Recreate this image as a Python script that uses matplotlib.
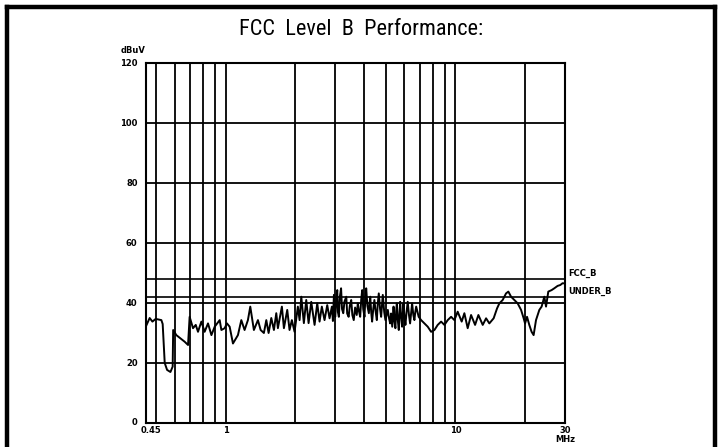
import matplotlib.pyplot as plt
from matplotlib.lines import Line2D
from matplotlib import font_manager

# Conducted emission scan (MHz, dBuV)
freq_mhz = [0.449, 0.467, 0.480, 0.496, 0.525, 0.532, 0.543, 0.556, 0.575, 0.588,
            0.591, 0.610, 0.663, 0.686, 0.697, 0.721, 0.741, 0.758, 0.784, 0.810,
            0.838, 0.867, 0.896, 0.942, 0.958, 0.990, 1.013, 1.041, 1.076, 1.131,
            1.170, 1.209, 1.250, 1.280, 1.327, 1.382, 1.420, 1.467, 1.503, 1.538,
            1.580, 1.622, 1.661, 1.688, 1.757, 1.793, 1.854, 1.897, 1.942, 1.995,
            2.062, 2.098, 2.134, 2.190, 2.243, 2.296, 2.358, 2.438, 2.504, 2.563,
            2.622, 2.694, 2.768, 2.833,
            2.90, 2.93, 2.96, 2.98, 3.00, 3.03, 3.06, 3.08, 3.11, 3.14,
            3.18, 3.21, 3.25, 3.29, 3.35, 3.38, 3.43, 3.47, 3.52, 3.56,
            3.61, 3.66, 3.72, 3.76, 3.80, 3.85, 3.89, 3.93, 3.97, 4.02,
            4.05, 4.09, 4.14, 4.20, 4.23, 4.26, 4.30, 4.34, 4.39, 4.44,
            4.49, 4.55, 4.59, 4.64, 4.70, 4.75, 4.79, 4.83, 4.90, 4.96,
            5.02, 5.08, 5.14, 5.20, 5.25, 5.31, 5.38, 5.43, 5.48, 5.52,
            5.56, 5.61, 5.67, 5.71, 5.75, 5.81, 5.86, 5.90, 5.94, 6.00,
            6.06, 6.13, 6.20, 6.28, 6.35, 6.42, 6.48, 6.56, 6.63, 6.69,
            6.75, 6.92,
            7.093, 7.331, 7.578, 7.840,
            8.104, 8.375, 8.665, 8.957, 9.258, 9.579, 9.901, 10.23, 10.65, 10.94,
            11.31, 11.70, 12.18, 12.59, 13.15, 13.60, 14.05, 14.67, 15.18, 15.54,
            16.06, 16.61, 17.00, 17.47, 18.05, 18.66, 19.31, 19.82, 20.10, 20.50,
            20.97, 21.46, 21.90, 22.43, 23.19, 23.73, 24.38, 24.80, 25.37, 26.22,
            26.94, 27.85, 28.61, 29.28, 30.0]
level_dbuv = [32.1, 35.0, 33.8, 34.7, 34.3, 33.0, 20.0, 17.7, 17.0, 18.8,
              31.0, 29.3, 27.1, 26.0, 35.4, 31.6, 32.7, 30.4, 33.8, 30.4,
              33.2, 29.3, 32.1, 34.3, 31.0, 31.6, 33.2, 32.1, 26.5, 29.3,
              34.3, 31.0, 34.3, 38.8, 31.0, 34.3, 31.0, 30.0, 34.3, 30.0,
              35.0, 31.0, 36.6, 31.6, 38.8, 31.6, 37.7, 31.0, 34.3, 30.4,
              38.8, 34.3, 42.1, 33.3, 41.0, 33.3, 40.4, 32.7, 39.9, 33.8,
              38.8, 34.3, 39.3, 34.9,
              38.8, 34.0, 42.7, 36.0, 35.4, 41.5, 44.3, 37.0, 35.4, 42.0,
              44.9, 38.0, 36.6, 40.5, 42.1, 36.5, 35.4, 39.0, 41.0, 36.0,
              34.3, 38.5, 36.0, 39.9, 37.5, 35.4, 41.0, 44.3, 38.0, 35.4,
              40.5, 44.9, 39.0, 36.6, 40.0, 42.1, 37.0, 33.8, 38.0, 41.0,
              37.5, 34.3, 39.5, 43.2, 38.0, 35.4, 39.0, 42.7, 37.0, 34.3,
              36.0, 37.7, 35.0, 33.2, 36.5, 32.1, 38.8, 34.0, 31.6, 37.0,
              39.9, 34.5, 31.0, 36.5, 40.4, 35.0, 32.1, 36.0, 39.9, 35.5,
              32.7, 37.0, 40.4, 36.0, 33.2, 37.0, 39.9, 36.0, 34.3, 37.0,
              38.8, 35.4,
              34.3, 33.2, 32.1, 30.4,
              31.0, 32.7, 33.8, 32.7, 34.3, 35.4, 34.3, 37.1, 33.8, 36.6,
              31.6, 36.0, 32.7, 36.0, 32.7, 34.9, 33.2, 34.9, 38.2, 39.9,
              41.0, 43.2, 43.8, 42.1, 41.0, 39.9, 37.7, 34.9, 33.2, 35.4,
              32.7, 30.4, 29.3, 34.3, 37.7, 38.8, 42.1, 38.8, 43.8, 44.3,
              44.9, 45.7, 46.0, 46.6, 46.5]

limit_names = ["FCC_B", "UNDER_B"]
limit_levels = [48, 42]

y_ticks = [0, 20, 40, 60, 80, 100, 120]
x_grid = [0.5, 0.6, 0.7, 0.8, 0.9, 1, 2, 3, 4, 5, 6, 7, 8, 9, 10, 20]
x_labels = ["0.45", "1", "10", "30"]
x_label_pos = [0.473, 1, 10, 30]

# pick a condensed face for the title if one is installed
title_family, title_size = "Liberation Sans", 13.5
for cand in ["Liberation Sans Narrow", "DejaVu Sans Condensed", "Roboto Condensed",
             "Open Sans Condensed"]:
    try:
        font_manager.findfont(cand, fallback_to_default=False)
        title_family, title_size = cand, 16
        break
    except Exception:
        pass

fig = plt.figure(figsize=(7.23, 4.47), dpi=100)
ax = fig.add_axes([0.2019, 0.0537, 0.5796, 0.8053])

ax.set_xscale("log")
ax.set_xlim(0.45, 30)
ax.set_ylim(0, 120)

for f in x_grid:
    ax.axvline(f, color="black", lw=1.3)
for v in y_ticks[1:-1]:
    ax.axhline(v, color="black", lw=1.3)
for name, lvl in zip(limit_names, limit_levels):
    ax.axhline(lvl, color="black", lw=1.2)

ax.plot(freq_mhz, level_dbuv, color="black", lw=1.4)

for s in ax.spines.values():
    s.set_linewidth(1.5)
ax.set_xticks([])
ax.set_yticks([])
ax.minorticks_off()

tick_font = dict(fontsize=6, fontweight="bold", family="DejaVu Sans")
for v in y_ticks:
    ax.text(-0.02, v, str(v), transform=ax.get_yaxis_transform(),
            ha="right", va="center", **tick_font)
ax.text(-0.06, 1.035, "dBuV", transform=ax.transAxes, ha="left", va="center", **tick_font)
for f, lab in zip(x_label_pos, x_labels):
    ax.text(f, -0.02, lab, transform=ax.get_xaxis_transform(),
            ha="center", va="center", **tick_font)
ax.text(30, -0.045, "MHz", transform=ax.get_xaxis_transform(),
        ha="center", va="center", **tick_font)

ax.text(31, 48.5, "FCC_B", ha="left", va="bottom", clip_on=False, **tick_font)
ax.text(31, 42.3, "UNDER_B", ha="left", va="bottom", clip_on=False, **tick_font)

fig.text(0.5, 0.933, "FCC  Level  B  Performance:", ha="center", va="center",
         fontsize=title_size, family=[title_family, "DejaVu Sans"])

# thick frame round the figure (open at the bottom edge)
fr = dict(color="black", lw=3.2, transform=fig.transFigure, solid_capstyle="projecting")
fig.add_artist(Line2D([0.0097, 0.0097], [0, 0.984], **fr))
fig.add_artist(Line2D([0.0097, 0.989], [0.984, 0.984], **fr))
fig.add_artist(Line2D([0.989, 0.989], [0, 0.984], **fr))

fig.savefig("out.png", dpi=100)
